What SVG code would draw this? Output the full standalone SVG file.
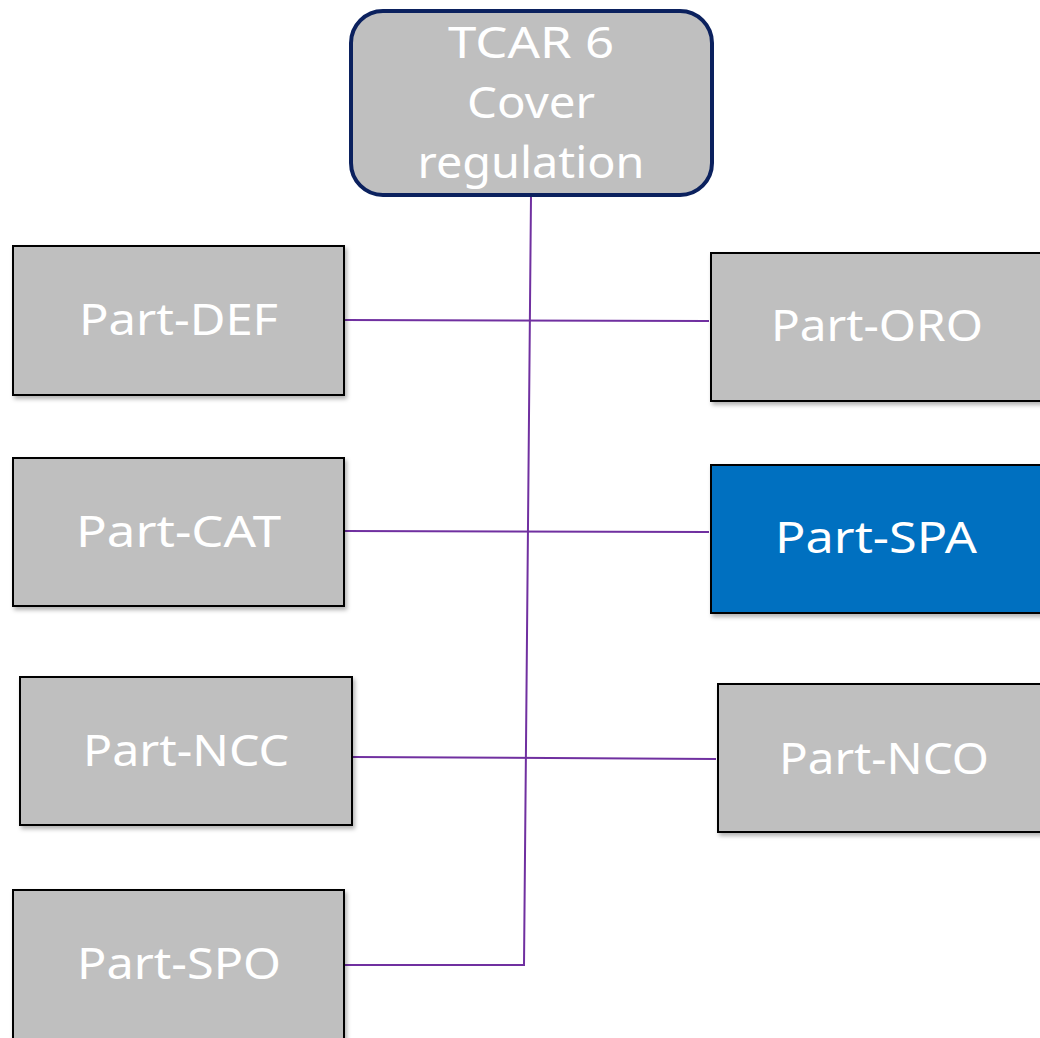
<svg xmlns="http://www.w3.org/2000/svg" width="1040" height="1038" viewBox="0 0 1040 1038">
  <style>
    .box { fill: #bfbfbf; stroke: #000; stroke-width: 2; filter: url(#shadow); }
    .hl { fill: #0070c0; }
    .lbl { font-family: "Noto Sans", "Open Sans", sans-serif; font-size: 44px; fill: #fff; text-anchor: middle; }
    .wire { fill: none; stroke: #7030a0; stroke-width: 2; }
  </style>
  <defs>
    <filter id="shadow" x="-10%" y="-10%" width="130%" height="130%">
      <feDropShadow dx="2" dy="3" stdDeviation="2" flood-color="#000" flood-opacity="0.3"/>
    </filter>
  </defs>
  <rect width="1040" height="1038" fill="#fff"/>

  <g id="connectors">
    <path class="wire" d="M531,196 L524,965 L344,965"/>
    <path class="wire" d="M344,320 L709,321"/>
    <path class="wire" d="M344,531 L709,532"/>
    <path class="wire" d="M352,757 L716,759"/>
  </g>

  <g id="tcar6">
    <rect x="351" y="11" width="361" height="184" rx="32" ry="32" fill="#bfbfbf" stroke="#0b215e" stroke-width="4"/>
    <text class="lbl" x="531" y="58" textLength="166" lengthAdjust="spacingAndGlyphs">TCAR 6</text>
    <text class="lbl" x="531" y="118" textLength="128" lengthAdjust="spacingAndGlyphs">Cover</text>
    <text class="lbl" x="531" y="178" textLength="227" lengthAdjust="spacingAndGlyphs">regulation</text>
  </g>

  <g id="part-def">
    <rect class="box" x="13" y="246" width="331" height="149"/>
    <text class="lbl" x="178.5" y="335" textLength="199" lengthAdjust="spacingAndGlyphs">Part-DEF</text>
  </g>
  <g id="part-oro">
    <rect class="box" x="711" y="253" width="334" height="148"/>
    <text class="lbl" x="877" y="341" textLength="212" lengthAdjust="spacingAndGlyphs">Part-ORO</text>
  </g>
  <g id="part-cat">
    <rect class="box" x="13" y="458" width="331" height="148"/>
    <text class="lbl" x="178.5" y="547" textLength="205" lengthAdjust="spacingAndGlyphs">Part-CAT</text>
  </g>
  <g id="part-spa">
    <rect class="box hl" x="711" y="465" width="334" height="148"/>
    <text class="lbl" x="876" y="553" textLength="202" lengthAdjust="spacingAndGlyphs">Part-SPA</text>
  </g>
  <g id="part-ncc">
    <rect class="box" x="20" y="677" width="332" height="148"/>
    <text class="lbl" x="186" y="766" textLength="206" lengthAdjust="spacingAndGlyphs">Part-NCC</text>
  </g>
  <g id="part-nco">
    <rect class="box" x="718" y="684" width="327" height="148"/>
    <text class="lbl" x="884" y="774" textLength="210" lengthAdjust="spacingAndGlyphs">Part-NCO</text>
  </g>
  <g id="part-spo">
    <rect class="box" x="13" y="890" width="331" height="155"/>
    <text class="lbl" x="179" y="979" textLength="204" lengthAdjust="spacingAndGlyphs">Part-SPO</text>
  </g>
</svg>
